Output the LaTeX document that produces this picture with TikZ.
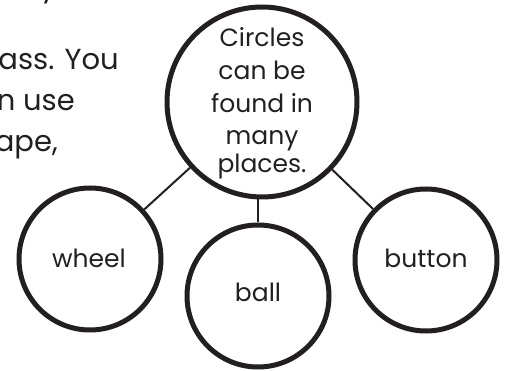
\documentclass[tikz,border=0pt]{standalone}
\usepackage{fontspec}
\setmainfont{Poppins}
\definecolor{ink}{HTML}{231F20}
\begin{document}
\begin{tikzpicture}[x=1pt,y=-1pt,
  ring/.style={circle,draw=ink,line width=5pt,inner sep=0pt},
  bigring/.style={ring,minimum size=190pt},
  smallring/.style={ring,minimum size=142pt},
  link/.style={draw=ink,line width=2pt},
  lbl/.style={font=\fontsize{25}{32}\selectfont,text=ink,inner sep=0pt,anchor=base},
  para/.style={font=\fontsize{29}{41}\selectfont,text=ink,inner sep=0pt,anchor=base east}]
\useasboundingbox (0,0) rectangle (509,371);
\node[bigring] (big) at (262,102) {};
\node[smallring] (wheel) at (90,259) {};
\node[smallring] (ball) at (258,296) {};
\node[smallring] (button) at (426,260) {};
\draw[link] (big) -- (wheel);
\draw[link] (big) -- (button);
\draw[link] (ball) -- (ball |- big.south);
\node[lbl] (c1) at (262,47) {Circles};
\node[lbl] (c2) at (262,80) {can be};
\node[lbl] (c3) at (262,113) {found in};
\node[lbl] (c4) at (262,145) {many};
\node[lbl] (c5) at (262,173) {places.};
\node[lbl] (twheel) at (89,268) {wheel};
\node[lbl] (tball) at (258,302) {ball};
\node[lbl] (tbutton) at (426,268) {button};
\node[para] (p0) at (57,-3) {y};
\node[para] (p1) at (119,70) {ass. You};
\node[para] (p2) at (75,111) {n use};
\node[para] (p3) at (58,152) {ape,};
\end{tikzpicture}
\end{document}
